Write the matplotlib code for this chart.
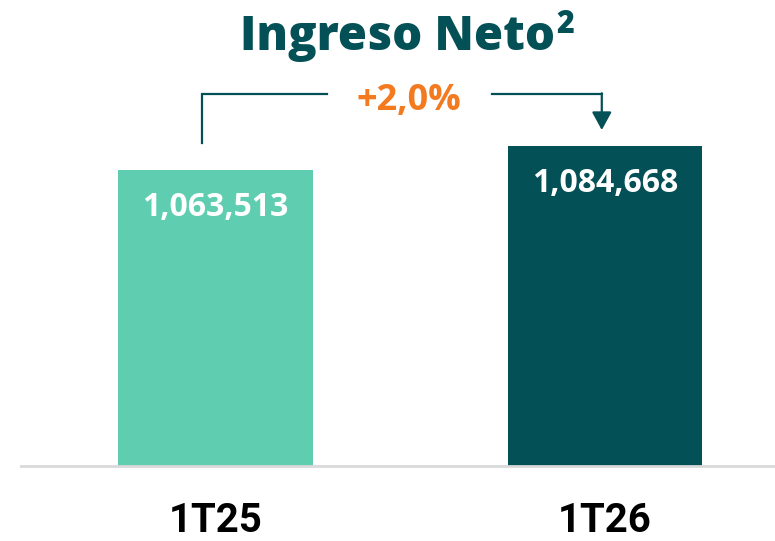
import matplotlib
matplotlib.use('Agg')
import matplotlib.pyplot as plt

# datos
periodos = ['1T25', '1T26']
ingreso_neto = [1063513, 1084668]
variacion = '+2,0%'
colores = ['#5ECDB0', '#035056']

fig = plt.figure(figsize=(7.75, 5.41), dpi=100)
ax = fig.add_axes([21 / 775, 75 / 541, 1 - 21 / 775, 466 / 541])

x = range(len(periodos))
barras = ax.bar(x, ingreso_neto, width=0.5, color=colores, zorder=2)

ax.set_xlim(-0.50, 1.437)
ax.set_ylim(802600, 1213400)

# etiquetas de valor dentro de las barras
for xi, v in zip(x, ingreso_neto):
    ax.annotate(f'{v:,}', xy=(xi, v), xytext=(0, -27), textcoords='offset points',
                ha='center', va='center', color='white', fontsize=23,
                fontweight='bold', family='Open Sans')

# ejes
for s in ['top', 'right', 'left']:
    ax.spines[s].set_visible(False)
ax.spines['bottom'].set_color('#D9D9D9')
ax.spines['bottom'].set_linewidth(2)
ax.set_yticks([])
ax.set_xticks(list(x))
ax.set_xticklabels(periodos, fontsize=29, fontweight='bold',
                   family=['Liberation Sans Narrow', 'Roboto'])
ax.tick_params(axis='x', length=0, pad=26)

# corchete con la variacion
linea = '#035056'
y_top = ingreso_neto[1] + 45800
ax.plot([-0.036, -0.036, 0.285], [ingreso_neto[0] + 23800, y_top, y_top],
        color=linea, lw=1.6, clip_on=False, solid_joinstyle='miter')
ax.plot([0.709, 0.992], [y_top, y_top], color=linea, lw=1.6, clip_on=False,
        solid_joinstyle='miter')
ax.annotate('', xy=(0.992, ingreso_neto[1] + 14100), xytext=(0.992, y_top + 700),
            arrowprops=dict(arrowstyle='-|>,head_length=1.1,head_width=0.6',
                            color=linea, lw=1.6, shrinkA=0, shrinkB=0),
            annotation_clip=False)
ax.text(0.497, y_top - 6000, variacion, ha='center', va='center', color='#F47A20',
        fontsize=26, fontweight='bold', family='Open Sans')

# titulo con superindice
titulo = fig.text(398 / 775, 1 - 50 / 541, 'Ingreso Neto', ha='center', va='baseline',
                  color='#035056', fontsize=34, fontweight=800, family='Open Sans')
fig.canvas.draw()
bb = titulo.get_window_extent()
fig.text((bb.x1 + 1) / 775, 1 - 33 / 541, '2', ha='left', va='baseline',
         color='#035056', fontsize=22, fontweight=800, family='Open Sans')

plt.savefig('out.png')
